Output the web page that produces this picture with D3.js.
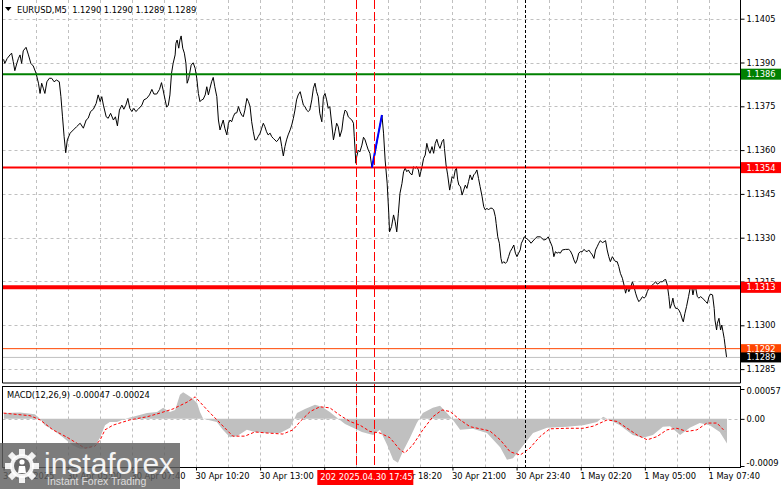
<!DOCTYPE html>
<html><head><meta charset="utf-8">
<script src="https://cdn.jsdelivr.net/npm/d3@7"></script>
<style>html,body{margin:0;padding:0;background:#fff;} svg{display:block;font-family:"DejaVu Sans",sans-serif;}</style>
</head><body><svg id="c" width="781" height="489"></svg>
<script>
// ---- DATA (minutes since 30 Apr 2025 02:20, EURUSD M5 closes) ----
const priceMinutes = [0,3,9,16,20,24,28,33,37,41,45,49,56,62,68,74,81,87,91,95,99,103,108,114,120,126,132,139,143,147,151,155,159,166,174,182,191,199,206,211,217,224,231,236,241,245,249,256,261,267,274,279,284,289,295,300,305,310,315,320,325,330,336,345,350,357,364,370,375,382,389,394,398,403,407,411,415,419,423,428,430,433,437,440,443,447,451,455,458,462,468,473,478,482,486,490,494,498,503,507,511,515,519,523,527,532,536,540,544,548,552,557,561,565,569,573,577,582,586,590,594,598,602,607,611,615,619,623,627,631,635,640,644,648,652,656,660,665,669,673,677,681,685,690,694,698,702,706,710,715,719,723,727,731,735,740,744,748,752,756,760,764,769,773,777,781,785,789,794,798,802,806,810,814,819,823,827,831,835,839,844,848,852,856,860,864,869,873,875,879,881,885,889,894,898,902,906,910,914,919,925,935,944,948,952,957,961,963,968,973,977,981,985,989,994,998,1002,1006,1010,1014,1019,1023,1027,1031,1035,1038,1041,1044,1048,1052,1056,1060,1064,1069,1073,1077,1081,1085,1089,1094,1098,1100,1104,1108,1113,1116,1119,1123,1127,1130,1133,1136,1140,1144,1148,1152,1156,1160,1164,1169,1173,1177,1181,1185,1189,1194,1198,1202,1206,1210,1214,1219,1223,1227,1229,1233,1237,1241,1244,1248,1252,1256,1260,1264,1269,1273,1277,1281,1285,1289,1292,1296,1299,1304,1310,1316,1323,1327,1331,1339,1348,1354,1359,1364,1369,1373,1377,1381,1385,1389,1394,1402,1410,1414,1419,1423,1427,1431,1435,1439,1444,1448,1452,1456,1460,1464,1469,1473,1477,1481,1485,1489,1494,1498,1502,1506,1510,1514,1519,1523,1527,1531,1535,1539,1544,1548,1552,1556,1560,1564,1569,1573,1577,1581,1585,1589,1594,1598,1602,1606,1610,1614,1619,1623,1627,1631,1635,1639,1644,1648,1652,1656,1660,1663,1667,1670,1673,1677,1681,1685,1689,1694,1696,1700,1704,1709,1713,1717,1720,1724,1727,1731,1735,1739,1744,1748,1752,1756,1760,1764,1769,1773,1775,1779,1781,1785,1789,1792,1795,1798,1800,1804];
const priceClose = [1.13911,1.13897,1.13914,1.13926,1.13932,1.13903,1.13872,1.13897,1.13914,1.13926,1.13897,1.13940,1.13952,1.13926,1.13897,1.13888,1.13863,1.13829,1.13794,1.13829,1.13812,1.13794,1.13834,1.13846,1.13846,1.13834,1.13840,1.13834,1.13783,1.13714,1.13646,1.13591,1.13635,1.13658,1.13669,1.13680,1.13692,1.13675,1.13703,1.13709,1.13732,1.13740,1.13760,1.13789,1.13766,1.13783,1.13754,1.13714,1.13709,1.13726,1.13703,1.13714,1.13683,1.13737,1.13754,1.13740,1.13754,1.13777,1.13743,1.13732,1.13743,1.13732,1.13740,1.13754,1.13772,1.13777,1.13789,1.13808,1.13792,1.13792,1.13808,1.13831,1.13806,1.13772,1.13747,1.13754,1.13789,1.13863,1.13897,1.13926,1.13966,1.13977,1.13949,1.13977,1.13991,1.13949,1.13932,1.13897,1.13829,1.13846,1.13891,1.13899,1.13880,1.13846,1.13794,1.13766,1.13772,1.13774,1.13789,1.13817,1.13789,1.13812,1.13834,1.13849,1.13817,1.13783,1.13703,1.13669,1.13686,1.13703,1.13675,1.13652,1.13692,1.13703,1.13697,1.13714,1.13726,1.13728,1.13749,1.13732,1.13720,1.13714,1.13737,1.13777,1.13766,1.13749,1.13697,1.13663,1.13635,1.13635,1.13646,1.13658,1.13675,1.13692,1.13680,1.13663,1.13652,1.13658,1.13646,1.13640,1.13635,1.13629,1.13635,1.13646,1.13612,1.13580,1.13612,1.13635,1.13652,1.13669,1.13686,1.13709,1.13737,1.13772,1.13789,1.13800,1.13777,1.13754,1.13749,1.13737,1.13732,1.13737,1.13772,1.13812,1.13829,1.13800,1.13783,1.13726,1.13697,1.13783,1.13794,1.13772,1.13743,1.13749,1.13686,1.13635,1.13663,1.13692,1.13680,1.13646,1.13669,1.13714,1.13737,1.13732,1.13714,1.13709,1.13703,1.13692,1.13646,1.13555,1.13577,1.13600,1.13594,1.13617,1.13644,1.13635,1.13617,1.13600,1.13589,1.13540,1.13576,1.13655,1.13720,1.13658,1.13566,1.13487,1.13385,1.13320,1.13338,1.13378,1.13355,1.13320,1.13384,1.13452,1.13486,1.13526,1.13538,1.13526,1.13532,1.13521,1.13515,1.13543,1.13538,1.13543,1.13532,1.13509,1.13526,1.13543,1.13572,1.13583,1.13623,1.13600,1.13589,1.13612,1.13589,1.13623,1.13637,1.13617,1.13606,1.13629,1.13637,1.13606,1.13549,1.13515,1.13463,1.13486,1.13509,1.13503,1.13532,1.13538,1.13498,1.13480,1.13475,1.13446,1.13463,1.13480,1.13469,1.13492,1.13515,1.13498,1.13515,1.13521,1.13532,1.13503,1.13475,1.13440,1.13406,1.13395,1.13401,1.13395,1.13401,1.13401,1.13395,1.13372,1.13349,1.13303,1.13281,1.13229,1.13212,1.13218,1.13212,1.13218,1.13235,1.13252,1.13264,1.13275,1.13247,1.13235,1.13247,1.13258,1.13281,1.13292,1.13303,1.13298,1.13292,1.13281,1.13292,1.13298,1.13303,1.13303,1.13292,1.13295,1.13303,1.13286,1.13269,1.13235,1.13252,1.13247,1.13250,1.13247,1.13258,1.13260,1.13260,1.13255,1.13241,1.13224,1.13212,1.13224,1.13247,1.13252,1.13252,1.13260,1.13255,1.13252,1.13258,1.13250,1.13241,1.13229,1.13258,1.13269,1.13281,1.13290,1.13283,1.13286,1.13290,1.13258,1.13235,1.13218,1.13235,1.13226,1.13218,1.13218,1.13201,1.13178,1.13161,1.13138,1.13110,1.13132,1.13115,1.13127,1.13149,1.13132,1.13110,1.13093,1.13081,1.13087,1.13098,1.13093,1.13098,1.13115,1.13127,1.13132,1.13138,1.13144,1.13149,1.13141,1.13144,1.13149,1.13149,1.13155,1.13157,1.13138,1.13098,1.13058,1.13075,1.13093,1.13070,1.13058,1.13058,1.13052,1.13041,1.13018,1.13012,1.13041,1.13064,1.13098,1.13127,1.13132,1.13104,1.13132,1.13127,1.13098,1.13093,1.13098,1.13093,1.13087,1.13081,1.13075,1.13098,1.13107,1.13104,1.13058,1.13018,1.12984,1.13007,1.13024,1.12984,1.13001,1.12978,1.12955,1.12933,1.12890];

const macdMinutes = [1,41,78,91,103,123,148,171,191,216,233,241,253,265,283,303,323,358,383,398,415,428,440,448,458,470,483,490,498,532,547,565,582,607,627,657,690,715,732,752,777,794,814,832,852,872,894,922,939,957,972,984,996,1014,1031,1046,1071,1089,1106,1119,1139,1171,1206,1239,1256,1271,1288,1321,1356,1406,1446,1481,1496,1513,1538,1570,1595,1620,1645,1663,1688,1712,1737,1762,1787,1805];
const macdValues = [0.00011,0.00012,0.00009,0.0,-0.00012,-0.00021,-0.00035,-0.00050,-0.00057,-0.00056,-0.00046,-0.00035,-0.00012,-0.00006,-0.00006,0.0,0.00004,0.00011,0.00013,0.00021,0.00013,0.00017,0.00046,0.00051,0.00046,0.00040,0.00030,0.00013,0.0,-0.00006,-0.00021,-0.00035,-0.00033,-0.00021,-0.00025,-0.00027,-0.00027,-0.00017,0.00011,0.00019,0.00027,0.00023,0.00013,0.00002,-0.00010,-0.00017,-0.00025,-0.00031,-0.00021,-0.00050,-0.00078,-0.00084,-0.00063,-0.00036,-0.00008,0.00011,0.00021,0.00025,0.00011,0.0,-0.00021,-0.00019,-0.00027,-0.00054,-0.00078,-0.00075,-0.00059,-0.00027,-0.00017,-0.00015,-0.00012,-0.00006,0.00004,-0.00002,-0.00012,-0.00031,-0.00036,-0.00031,-0.00015,-0.00014,-0.00031,-0.00017,-0.00008,-0.00012,-0.00025,-0.00047];

const signalMinutes = [0,66,91,123,158,203,228,241,253,273,315,358,390,423,458,478,508,540,572,602,627,657,697,722,740,765,789,814,839,864,889,914,939,964,989,1001,1021,1046,1071,1094,1114,1139,1164,1189,1213,1239,1264,1289,1313,1338,1363,1406,1446,1471,1506,1531,1556,1581,1606,1630,1655,1680,1705,1730,1755,1780,1800];
const signalValues = [0.00011,0.00006,-0.00002,-0.00021,-0.00035,-0.00056,-0.00052,-0.00040,-0.00021,-0.00012,-0.00002,0.00004,0.00011,0.00019,0.00032,0.00042,0.00017,-0.00008,-0.00033,-0.00033,-0.00025,-0.00027,-0.00029,-0.00021,-0.00005,0.00014,0.00023,0.00021,0.00007,-0.00005,-0.00012,-0.00024,-0.00027,-0.00036,-0.00059,-0.00065,-0.00050,-0.00021,0.00004,0.00017,0.00014,-0.00002,-0.00015,-0.00019,-0.00023,-0.00040,-0.00063,-0.00069,-0.00056,-0.00034,-0.00019,-0.00018,-0.00018,-0.00014,-0.00002,-0.00005,-0.00018,-0.00031,-0.00040,-0.00034,-0.00021,-0.00018,-0.00024,-0.00021,-0.00008,-0.00008,-0.00024];

const trendMinutes = [919, 944];
const trendValues = [1.13540, 1.13720];

const priceTicks = [1.1405,1.1390,1.1375,1.1360,1.1345,1.1330,1.1315,1.1300,1.1285];
const macdTicks = [0.00057, 0.0, -0.0009];
const macdTickLabels = ["0.00057","0.00","-0.0009"];
const timeTickMinutes = [0,160,320,480,640,800,960,1120,1280,1440,1600,1760];
const timeTickLabels = ["30 Apr 2025","30 Apr 05:00","30 Apr 07:40","30 Apr 10:20","30 Apr 13:00","","30 Apr 18:20","30 Apr 21:00","30 Apr 23:40","1 May 02:20","1 May 05:00","1 May 07:40"];
const gridMinutes = [80,160,240,320,400,480,560,640,720,800,880,960,1040,1120,1200,1280,1360,1440,1520,1600,1680,1760];
const levelValues = [1.1386, 1.1354, 1.1313];
const levelLabels = ["1.1386","1.1354","1.1313"];
const askValue = 1.1292, bidValue = 1.1289;
const markerMinutes = [880, 925];
const dayBreakMinute = 1300;
const headerText = "EURUSD,M5  1.1290 1.1290 1.1289 1.1289";
const macdText = "MACD(12,26,9) -0.00047 -0.00024";
const cursorText = "202 2025.04.30 17:45";

// ---- DRAWING ----
const svg = d3.select("#c");
const W = 781, H = 489;
const L = 2.5, R = 740.5, mainTop = 0, mainBot = 383, mTop = 386.5, mBot = 467.5;
const FS = "8.3px";

const x = d3.scaleLinear().domain([0, 1805]).range([3.6, 727]);
const y = d3.scaleLinear().domain([1.1300, 1.1405]).range([325.3, 18.7]);
const ym = d3.scaleLinear().domain([-0.0009, 0.00057]).range([466, 389]);

svg.append("rect").attr("width", W).attr("height", H).attr("fill", "#fff");

const defs = svg.append("defs");
defs.append("clipPath").attr("id","cm").append("rect").attr("x",L).attr("y",mainTop).attr("width",R-L).attr("height",mainBot-mainTop);
defs.append("clipPath").attr("id","cd").append("rect").attr("x",L).attr("y",mTop).attr("width",R-L).attr("height",mBot-mTop);

const grid = svg.append("g").attr("stroke","#c0c0c0").attr("stroke-dasharray","3,3").attr("stroke-width",1);
gridMinutes.forEach(m => {
  const gx = Math.round(x(m)) + 0.5;
  grid.append("line").attr("x1",gx).attr("x2",gx).attr("y1",mainTop).attr("y2",mainBot);
  grid.append("line").attr("x1",gx).attr("x2",gx).attr("y1",mTop).attr("y2",mBot);
});
priceTicks.forEach(p => {
  const gy = Math.round(y(p)) + 0.5;
  grid.append("line").attr("x1",L).attr("x2",R).attr("y1",gy).attr("y2",gy);
});
grid.append("line").attr("x1",L).attr("x2",R).attr("y1",Math.round(ym(0))+0.5).attr("y2",Math.round(ym(0))+0.5);

// MACD histogram (area) + signal
const mg = svg.append("g").attr("clip-path","url(#cd)");
const idxM = d3.range(macdMinutes.length);
mg.append("path")
  .attr("d", d3.area().x(i => x(macdMinutes[i])).y0(ym(0)).y1(i => ym(macdValues[i]))(idxM))
  .attr("fill", "#c0c0c0");
const idxS = d3.range(signalMinutes.length);
mg.append("path")
  .attr("d", d3.line().x(i => x(signalMinutes[i])).y(i => ym(signalValues[i]))(idxS))
  .attr("fill","none").attr("stroke","#ff0000").attr("stroke-width",1).attr("stroke-dasharray","3,2");

// price line
const pg = svg.append("g").attr("clip-path","url(#cm)");
const idxP = d3.range(priceMinutes.length);
pg.append("path")
  .attr("d", d3.line().x(i => x(priceMinutes[i])).y(i => y(priceClose[i]))(idxP))
  .attr("fill","none").attr("stroke","#000").attr("stroke-width",1);

pg.append("line").attr("x1",L).attr("x2",R).attr("y1",y(bidValue)).attr("y2",y(bidValue)).attr("stroke","#c0c0c0").attr("stroke-width",1);
pg.append("line").attr("x1",L).attr("x2",R).attr("y1",y(askValue)).attr("y2",y(askValue)).attr("stroke","#ff4500").attr("stroke-width",1);

const levelColors = ["#008000","#ff0000","#ff0000"];
const levelWidths = [2, 2, 4];
levelValues.forEach((v,i) => {
  pg.append("line").attr("x1",L).attr("x2",R).attr("y1",y(v)).attr("y2",y(v))
    .attr("stroke",levelColors[i]).attr("stroke-width",levelWidths[i]);
});

pg.append("path")
  .attr("d", d3.line().x(i => x(trendMinutes[i])).y(i => y(trendValues[i]))([0,1]))
  .attr("stroke","#0000ff").attr("stroke-width",2).attr("fill","none");

markerMinutes.forEach(m => {
  const vx = Math.round(x(m)) + 0.5;
  svg.append("line").attr("x1",vx).attr("x2",vx).attr("y1",mainTop).attr("y2",mBot)
    .attr("stroke","#ff0000").attr("stroke-width",1).attr("stroke-dasharray","9,3");
});
{
  const vx = Math.round(x(dayBreakMinute)) + 0.5;
  svg.append("line").attr("x1",vx).attr("x2",vx).attr("y1",mainTop).attr("y2",mBot)
    .attr("stroke","#000").attr("stroke-width",1).attr("stroke-dasharray","3,2");
}

const border = svg.append("g").attr("fill","none").attr("stroke","#000").attr("stroke-width",1);
border.append("path").attr("d",`M${L},${mainTop} V${mainBot} H${R} V${mainTop}`);
border.append("rect").attr("x",L).attr("y",mTop).attr("width",R-L).attr("height",mBot-mTop);

const ya = svg.append("g").attr("transform",`translate(${R},0)`)
  .call(d3.axisRight(y).tickValues(priceTicks).tickFormat(d3.format(".4f")).tickSize(4).tickPadding(2));
ya.select(".domain").remove();
ya.selectAll("text").attr("font-family","DejaVu Sans").attr("font-size",FS).attr("fill","#000");
ya.selectAll("line").attr("stroke","#000");

const ma = svg.append("g").attr("transform",`translate(${R},0)`)
  .call(d3.axisRight(ym).tickValues(macdTicks).tickFormat((d,i) => macdTickLabels[i]).tickSize(4).tickPadding(2));
ma.select(".domain").remove();
ma.selectAll("text").attr("font-family","DejaVu Sans").attr("font-size",FS).attr("fill","#000");
ma.selectAll("line").attr("stroke","#000");
ma.selectAll(".tick").filter(d => d === macdTicks[0]).select("text").attr("dy","0.55em");
ma.selectAll(".tick").filter(d => d === macdTicks[2]).select("text").attr("dy","-0.05em");

const xa = svg.append("g").attr("transform",`translate(0,${mBot})`)
  .call(d3.axisBottom(x).tickValues(timeTickMinutes).tickFormat((d,i) => timeTickLabels[i]).tickSize(3).tickPadding(3));
xa.select(".domain").remove();
xa.selectAll("text").attr("font-family","DejaVu Sans").attr("font-size",FS).attr("fill","#000").attr("text-anchor","start").attr("dx","-1");
xa.selectAll("line").attr("stroke","#000");

const boxG = svg.append("g");
function priceBox(v, label, fill, h) {
  const cy = y(v);
  boxG.append("rect").attr("x",R+0.5).attr("y",cy - h/2).attr("width",W-R).attr("height",h).attr("fill",fill);
  boxG.append("text").attr("x",R+6).attr("y",cy).attr("dy","0.35em").attr("font-size",FS).attr("fill","#fff").text(label);
}
levelValues.forEach((v,i) => priceBox(v, levelLabels[i], levelColors[i], 11));
priceBox(askValue, d3.format(".4f")(askValue), "#ff4500", 9);
priceBox(bidValue, d3.format(".4f")(bidValue), "#000", 10);

{
  const cx = x(markerMinutes[1]);
  svg.append("rect").attr("x",cx-57).attr("y",470).attr("width",96).attr("height",15).attr("fill","#ff0000");
  svg.append("text").attr("x",cx-54).attr("y",477.5).attr("dy","0.35em").attr("font-size",FS).attr("fill","#fff").text(cursorText);
}

svg.append("path").attr("d","M5,7 L11.5,7 L8.25,11 Z").attr("fill","#000");
svg.append("text").attr("x",17).attr("y",10).attr("dy","0.35em").attr("font-size",FS).attr("fill","#000")
  .attr("xml:space","preserve").style("white-space","pre").text(headerText);
svg.append("text").attr("x",7).attr("y",395).attr("dy","0.35em").attr("font-size",FS).attr("fill","#000").text(macdText);

const lg = svg.append("g");
lg.append("rect").attr("x",0).attr("y",443).attr("width",180).attr("height",46).attr("fill","#5f5f5f").attr("opacity",0.82);
const gc = [22, 466];
d3.range(8).map(k => k*45).forEach(a => {
  lg.append("rect").attr("x",gc[0]-3).attr("y",gc[1]-17).attr("width",6).attr("height",7)
    .attr("fill","#fff").attr("opacity",0.9).attr("transform",`rotate(${a},${gc[0]},${gc[1]})`);
});
lg.append("circle").attr("cx",gc[0]).attr("cy",gc[1]).attr("r",12).attr("fill","#fff").attr("opacity",0.9);
lg.append("circle").attr("cx",gc[0]).attr("cy",gc[1]).attr("r",8).attr("fill","#6a6a6a");
lg.append("circle").attr("cx",gc[0]).attr("cy",gc[1]-4).attr("r",2.6).attr("fill","#fff");
lg.append("path").attr("d",`M${gc[0]-4},${gc[1]+7} L${gc[0]-3},${gc[1]} L${gc[0]+3},${gc[1]} L${gc[0]+4},${gc[1]+7} Z`).attr("fill","#fff");
lg.append("text").attr("x",44).attr("y",474).attr("font-family","Liberation Sans, Arial, sans-serif").attr("font-size","30px")
  .attr("fill","#fff").attr("opacity",0.92).text("instaforex");
lg.append("text").attr("x",47).attr("y",485).attr("font-family","Liberation Sans, Arial, sans-serif").attr("font-size","10.5px")
  .attr("fill","#e6e6e6").attr("opacity",0.9).text("Instant Forex Trading");
</script></body></html>
